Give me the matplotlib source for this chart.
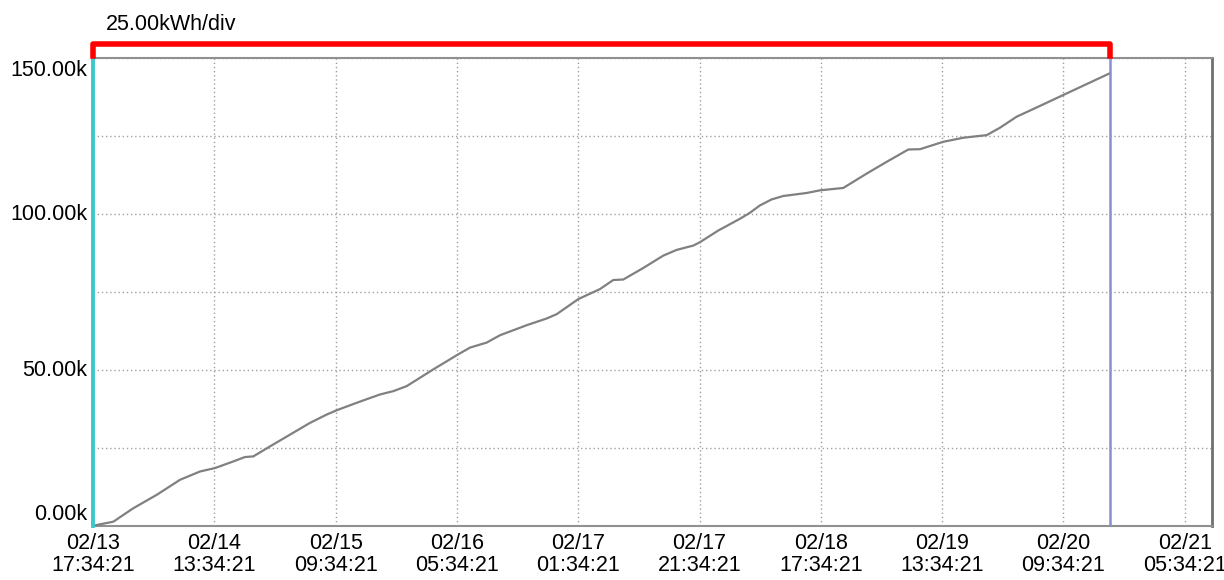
import matplotlib
matplotlib.use("Agg")
import matplotlib.pyplot as plt
import matplotlib.dates as mdates
import matplotlib.transforms as mtransforms
import pandas as pd

# energy meter log, hours since first sample vs cumulative kWh (thousands)
start = pd.Timestamp("2023-02-13 17:34:21")
hours = [0.0, 0.61, 3.35, 6.64, 10.50, 14.34, 17.64, 20.12, 23.13, 25.06, 26.43,
         29.19, 32.48, 35.78, 38.53, 40.18, 43.48, 47.32, 49.51, 51.72, 56.11,
         60.23, 62.16, 64.91, 67.11, 71.51, 74.81, 76.46, 80.02, 83.59, 85.78,
         87.43, 90.73, 94.03, 96.24, 98.98, 100.08, 103.10, 106.67, 108.32,
         109.96, 111.90, 113.81, 117.67, 119.86, 123.71, 127.56, 130.86, 134.43,
         136.36, 140.20, 143.49, 147.35, 149.55, 152.30, 155.04, 159.99, 167.68]
energy_k = [0.0, 0.32, 1.38, 5.69, 9.98, 14.80, 17.47, 18.57, 20.69, 22.11, 22.30,
            25.52, 29.28, 33.05, 35.72, 37.10, 39.49, 42.16, 43.22, 44.83, 50.20,
            55.03, 57.18, 58.79, 61.14, 64.36, 66.52, 67.90, 72.73, 75.94, 78.84,
            79.00, 82.70, 86.66, 88.50, 89.88, 90.97, 94.71, 98.47, 100.40,
            102.75, 104.68, 105.77, 106.74, 107.58, 108.35, 112.95, 116.72, 120.68,
            120.77, 123.15, 124.44, 125.28, 127.66, 131.20, 133.65, 138.15, 145.13]
tick_hours = [0, 20, 40, 60, 80, 100, 120, 140, 160, 180]
y_ticks = [0, 50, 100, 150]
y_minor = [25, 75, 125]
span_hours = 184.5
div_label = "25.00kWh/div"

plt.rcParams["font.family"] = ["Liberation Sans", "DejaVu Sans"]
plt.rcParams["font.size"] = 15.5

times = start + pd.to_timedelta(hours, unit="h")
t_end = times[-1]

W, H = 1224, 580
fig = plt.figure(figsize=(W / 100, H / 100), dpi=100)
ax = fig.add_axes([93 / W, 54 / H, (1212 - 93) / W, (526 - 58) / H])

ax.plot(times, energy_k, color="#808080", lw=1.6, zorder=3)

ax.set_xlim(start, start + pd.Timedelta(hours=span_hours))
ax.set_ylim(0, 150)
ax.set_xticks(start + pd.to_timedelta(tick_hours, unit="h"))
ax.xaxis.set_major_formatter(mdates.DateFormatter("%m/%d\n%H:%M:%S"))
ax.set_yticks(y_ticks)
ax.set_yticks(y_minor, minor=True)
ax.set_yticklabels([])
ax.tick_params(axis="both", which="both", length=0)
ax.tick_params(axis="x", pad=5)
for lbl in ax.get_xticklabels():
    lbl.set_linespacing(1.05)

ax.set_axisbelow(True)
ax.grid(which="both", color="#a0a0a0", linestyle=(0, (1, 2)), lw=1)

# y labels: end labels are pulled inside the plot height
ytrans = ax.get_yaxis_transform()
for v in y_ticks:
    dy = 0
    if v == y_ticks[-1]:
        dy = -9
    elif v == y_ticks[0]:
        dy = 8
    ax.annotate(f"{v:.2f}k", xy=(0, v), xycoords=ytrans, xytext=(-4, dy),
                textcoords="offset points", ha="right", va="center")

for side in ["top", "bottom"]:
    ax.spines[side].set_color("#909090")
    ax.spines[side].set_linewidth(1.5)
ax.spines["right"].set_color("#707070")
ax.spines["right"].set_linewidth(2)
ax.spines["left"].set_visible(False)

# cursors: start (cyan) and end (blue)
ax.axvline(start, color="#3cc8cc", lw=2.8, zorder=4, clip_on=False)
ax.axvline(t_end, color="#8c8cd2", lw=1.8, zorder=4)

# red bracket spanning the selected range, above the axes
btrans = mtransforms.blended_transform_factory(ax.transData, fig.transFigure)
x0 = mdates.date2num(start)
x1 = mdates.date2num(t_end)
y_top = 1 - 44 / H
y_bot = 1 - 56 / H
ax.plot([x0, x0, x1, x1], [y_bot, y_top, y_top, y_bot], color="#ff0000", lw=4,
        transform=btrans, clip_on=False, solid_joinstyle="round", zorder=5)

fig.text(106 / W, 1 - 25 / H, div_label, ha="left", va="center")

fig.savefig("out.png", dpi=100)
